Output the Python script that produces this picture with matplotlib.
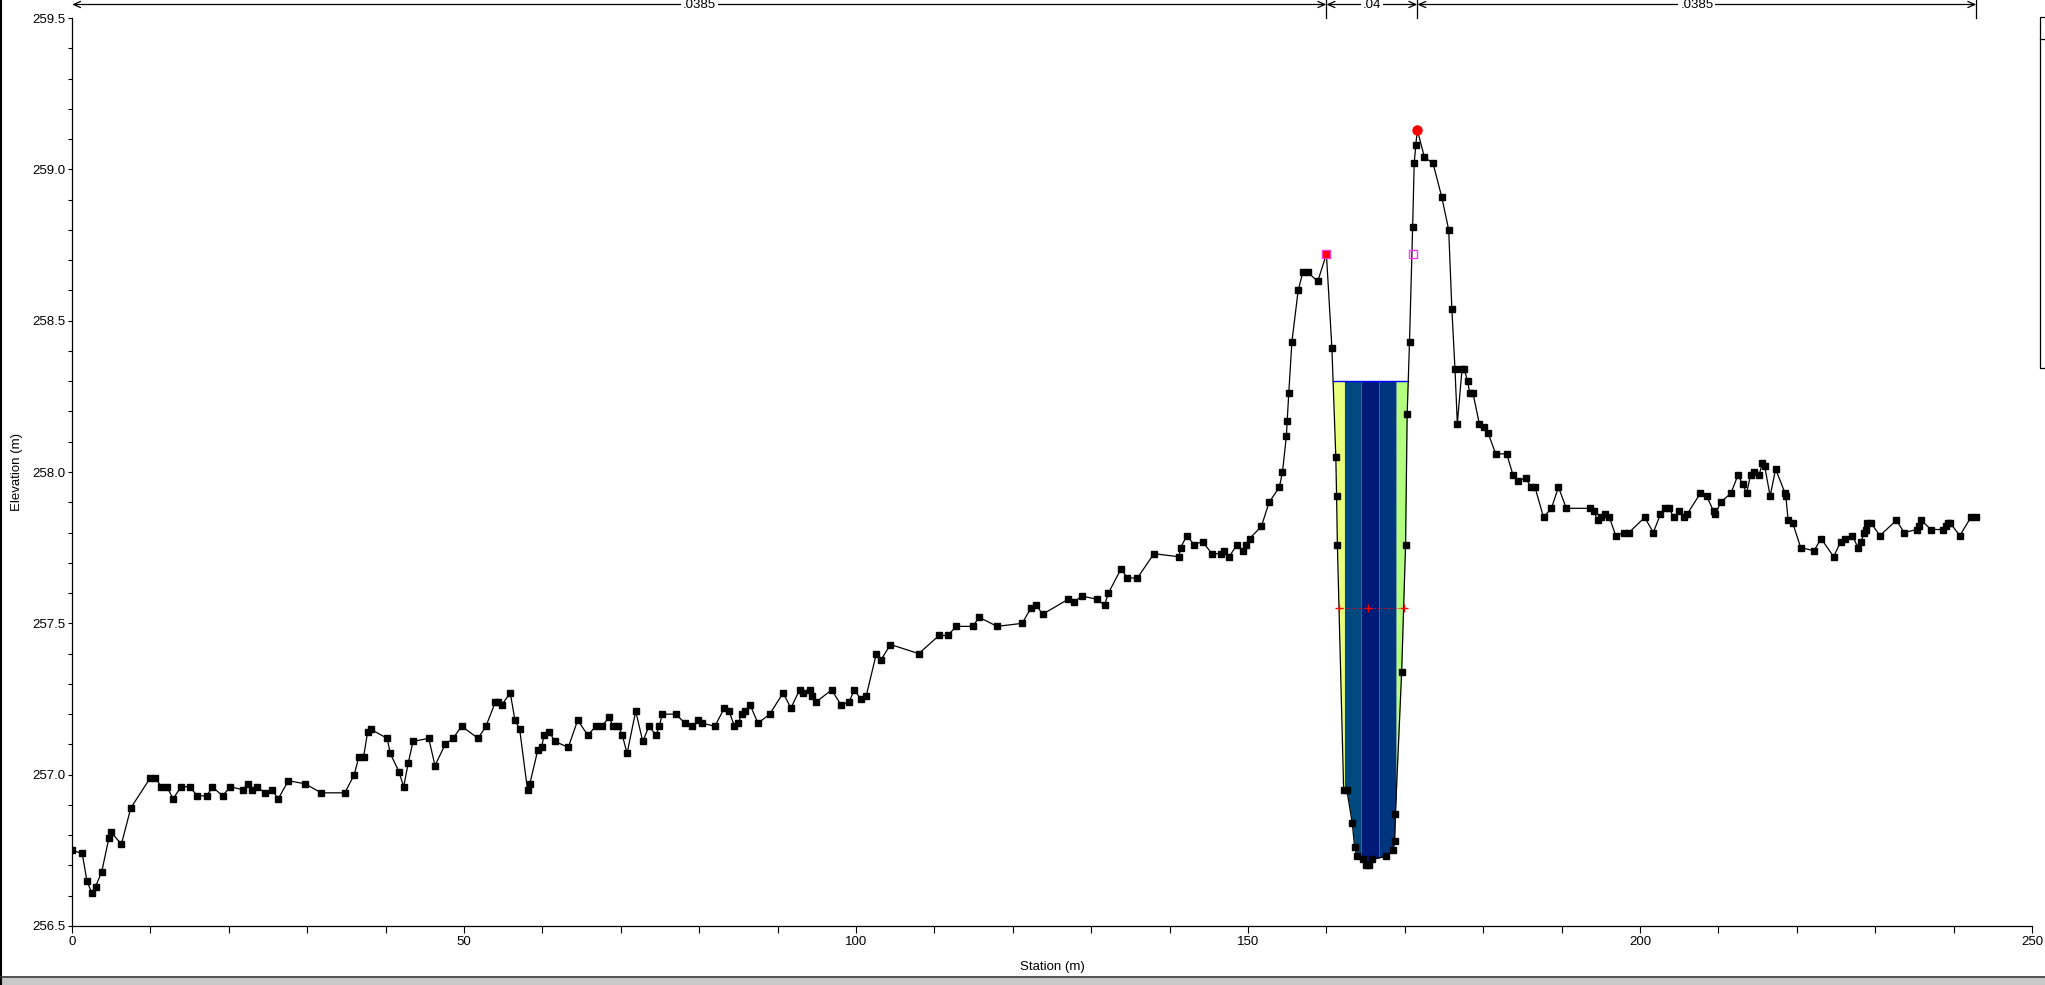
import matplotlib
matplotlib.use("Agg")
import matplotlib.pyplot as plt
import numpy as np
from matplotlib.lines import Line2D
from matplotlib.patches import Rectangle

plt.rcParams["font.family"] = ["Liberation Sans Narrow", "Liberation Sans", "DejaVu Sans"]

# ground survey points (station m, elevation m)
station = [
    0.0, 1.3, 1.9, 2.5, 3.0, 3.8, 4.7, 5.0, 6.3, 7.5, 10.0, 10.6, 11.4, 12.1, 12.9,
    13.9, 15.0, 16.0, 17.2, 17.9, 19.2, 20.2, 21.8, 22.4, 23.0, 23.6, 24.6, 25.5,
    26.3, 27.6, 29.7, 31.8, 34.8, 36.0, 36.6, 37.2, 37.7, 38.1, 40.2, 40.6, 41.7,
    42.3, 42.9, 43.5, 45.5, 46.3, 47.6, 48.6, 49.7, 51.8, 52.8, 54.0, 54.3, 54.8,
    55.9, 56.5, 57.1, 58.1, 58.4, 59.4, 59.9, 60.2, 60.9, 61.6, 63.3, 64.5, 65.8,
    66.8, 67.6, 68.5, 69.0, 69.7, 70.2, 70.8, 71.9, 72.8, 73.6, 74.5, 74.9, 75.3,
    77.0, 78.2, 79.1, 79.9, 80.4, 82.0, 83.2, 83.8, 84.5, 85.0, 85.4, 85.8, 86.5,
    87.5, 89.0, 90.7, 91.7, 92.8, 93.2, 94.1, 94.4, 94.9, 96.9, 98.1, 99.1, 99.8,
    100.6, 101.3, 102.6, 103.2, 104.4, 108.0, 110.6, 111.7, 112.8, 114.9, 115.7,
    118.0, 121.2, 122.3, 123.0, 123.8, 127.1, 127.8, 128.8, 130.7, 131.7, 132.2,
    133.8, 134.6, 135.9, 138.0, 141.2, 141.4, 142.2, 143.1, 144.2, 145.4, 146.5,
    147.0, 147.6, 148.6, 149.3, 149.7, 150.2, 151.7, 152.7, 154.0, 154.4, 154.9,
    155.0, 155.2, 155.6, 156.4, 157.0, 157.6, 158.9, 160.0, 160.7, 161.2, 161.3,
    161.4, 162.2, 162.6, 163.3, 163.6, 163.9, 164.7, 165.1, 165.4, 165.8, 167.6,
    168.5, 168.7, 168.8, 169.6, 170.1, 170.3, 170.6, 171.0, 171.2, 171.4, 171.6,
    172.5, 173.6, 174.7, 175.6, 176.0, 176.4, 176.7, 177.3, 177.6, 178.0, 178.3,
    178.7, 179.5, 180.1, 180.6, 181.6, 183.0, 183.8, 184.4, 185.4, 186.1, 186.6,
    187.7, 188.7, 189.6, 190.6, 193.6, 194.1, 194.6, 195.0, 195.5, 196.1, 196.9,
    198.0, 198.6, 200.6, 201.7, 202.6, 203.2, 203.7, 204.3, 205.0, 205.6, 206.0,
    207.7, 208.5, 209.4, 209.6, 210.3, 211.6, 212.5, 213.1, 213.6, 214.1, 214.5,
    215.2, 215.6, 215.9, 216.6, 217.3, 218.5, 218.6, 218.9, 219.5, 220.5, 222.2,
    223.1, 224.7, 225.6, 226.1, 227.1, 227.8, 228.2, 228.6, 228.8, 229.0, 229.5,
    230.6, 232.7, 233.7, 235.3, 235.6, 235.9, 237.1, 238.7, 239.0, 239.3, 239.6,
    240.8, 242.2, 242.9,
]
elevation = [
    256.75, 256.74, 256.65, 256.61, 256.63, 256.68, 256.79, 256.81, 256.77, 256.89,
    256.99, 256.99, 256.96, 256.96, 256.92, 256.96, 256.96, 256.93, 256.93, 256.96,
    256.93, 256.96, 256.95, 256.97, 256.95, 256.96, 256.94, 256.95, 256.92, 256.98,
    256.97, 256.94, 256.94, 257.00, 257.06, 257.06, 257.14, 257.15, 257.12, 257.07,
    257.01, 256.96, 257.04, 257.11, 257.12, 257.03, 257.10, 257.12, 257.16, 257.12,
    257.16, 257.24, 257.24, 257.23, 257.27, 257.18, 257.15, 256.95, 256.97, 257.08,
    257.09, 257.13, 257.14, 257.11, 257.09, 257.18, 257.13, 257.16, 257.16, 257.19,
    257.16, 257.16, 257.13, 257.07, 257.21, 257.11, 257.16, 257.13, 257.16, 257.20,
    257.20, 257.17, 257.16, 257.18, 257.17, 257.16, 257.22, 257.21, 257.16, 257.17,
    257.20, 257.21, 257.23, 257.17, 257.20, 257.27, 257.22, 257.28, 257.27, 257.28,
    257.26, 257.24, 257.28, 257.23, 257.24, 257.28, 257.25, 257.26, 257.40, 257.38,
    257.43, 257.40, 257.46, 257.46, 257.49, 257.49, 257.52, 257.49, 257.50, 257.55,
    257.56, 257.53, 257.58, 257.57, 257.59, 257.58, 257.56, 257.60, 257.68, 257.65,
    257.65, 257.73, 257.72, 257.75, 257.79, 257.76, 257.77, 257.73, 257.73, 257.74,
    257.72, 257.76, 257.74, 257.76, 257.78, 257.82, 257.90, 257.95, 258.00, 258.12,
    258.17, 258.26, 258.43, 258.60, 258.66, 258.66, 258.63, 258.72, 258.41, 258.05,
    257.92, 257.76, 256.95, 256.95, 256.84, 256.76, 256.73, 256.72, 256.70, 256.70,
    256.72, 256.73, 256.75, 256.78, 256.87, 257.34, 257.76, 258.19, 258.43, 258.81,
    259.02, 259.08, 259.13, 259.04, 259.02, 258.91, 258.80, 258.54, 258.34, 258.16,
    258.34, 258.34, 258.30, 258.26, 258.26, 258.16, 258.15, 258.13, 258.06, 258.06,
    257.99, 257.97, 257.98, 257.95, 257.95, 257.85, 257.88, 257.95, 257.88, 257.88,
    257.87, 257.84, 257.85, 257.86, 257.85, 257.79, 257.80, 257.80, 257.85, 257.80,
    257.86, 257.88, 257.88, 257.85, 257.87, 257.85, 257.86, 257.93, 257.92, 257.87,
    257.86, 257.90, 257.93, 257.99, 257.96, 257.93, 257.99, 258.00, 257.99, 258.03,
    258.02, 257.92, 258.01, 257.93, 257.92, 257.84, 257.83, 257.75, 257.74, 257.78,
    257.72, 257.77, 257.78, 257.79, 257.75, 257.77, 257.80, 257.81, 257.83, 257.83,
    257.79, 257.84, 257.80, 257.81, 257.82, 257.84, 257.81, 257.81, 257.82, 257.83,
    257.83, 257.79, 257.85, 257.85,
]

# water surface and velocity distribution strips
ws_elev = 258.30
strip_edges = [160.0, 162.3, 164.4, 166.7, 168.9, 172.0]
strip_colors = ["#eaff7a", "#004a80", "#001a7a", "#00367f", "#b3ff80"]

# bank stations / levee
left_bank = (160.0, 258.72)
right_bank = (171.6, 259.13)
levee = (171.0, 258.72)

# red crosses
cross_sta = [161.6, 165.3, 169.9]
cross_elev = [257.55, 257.55, 257.55]

# Manning's n regions
n_bounds = [0.0, 160.0, 171.6, 242.9]
n_values = [".0385", ".04", ".0385"]

sta = np.array(station)
elv = np.array(elevation)

fig = plt.figure(figsize=(20.45, 9.85), dpi=100)
ax = fig.add_axes([72 / 2045, 59 / 985, 1960 / 2045, 908 / 985])

# water strips clipped to the section
for a, b, c in zip(strip_edges[:-1], strip_edges[1:], strip_colors):
    xs = np.linspace(a, b, 400)
    gs = np.interp(xs, sta, elv)
    ax.fill_between(xs, gs, ws_elev, where=gs < ws_elev, interpolate=True,
                    color=c, lw=0, zorder=1)

# water surface line
xs = np.linspace(strip_edges[0], strip_edges[-1], 2000)
gs = np.interp(xs, sta, elv)
wet = xs[gs < ws_elev]
ax.plot([wet.min(), wet.max()], [ws_elev, ws_elev], color="#0000ff", lw=1, zorder=2)

# ground
ax.plot(sta, elv, color="black", lw=0.9, marker="s", ms=4.2, mfc="black",
        mec="black", zorder=3)

ax.plot(cross_sta, cross_elev, color="red", lw=0.8, ls=":", marker="+", ms=6,
        mew=1, zorder=4)
ax.plot(*left_bank, marker="s", ms=6, color="red", mec="#ff33cc", zorder=5)
ax.plot(*right_bank, marker="o", ms=6.5, color="red", zorder=5)
ax.plot(*levee, marker="s", ms=6, mfc="none", mec="#ff33ff", mew=1, zorder=5)

ax.set_xlim(0, 250)
ax.set_ylim(256.5, 259.5)
ax.set_xticks(np.arange(0, 251, 50))
ax.set_xticks(np.arange(0, 251, 10), minor=True)
ax.set_yticks(np.arange(256.5, 259.51, 0.5))
ax.set_yticks(np.arange(256.5, 259.51, 0.1), minor=True)
ax.yaxis.set_major_formatter(plt.FuncFormatter(lambda v, p: f"{v:.1f}"))
ax.tick_params(axis="x", which="both", direction="out", length=5, width=0.8,
               labelsize=9.5, pad=2)
ax.tick_params(axis="y", which="both", direction="out", length=3, width=0.8,
               labelsize=9.5, pad=2)
for s in ("top", "right"):
    ax.spines[s].set_visible(False)
for s in ("left", "bottom"):
    ax.spines[s].set_linewidth(0.9)

ax.set_xlabel("Station (m)", fontsize=9.5)
ax.set_ylabel("Elevation (m)", fontsize=9.5)
ax.xaxis.set_label_coords(0.5, -0.038)
ax.yaxis.set_label_coords(-0.025, 0.5)

# n-value dimension arrows above the plot
y_arrow = 259.5 + 13.5 / 302.7
y_tick_top = 259.5 + 18 / 302.7
for x in n_bounds[1:]:
    ax.plot([x, x], [259.5, y_tick_top], color="black", lw=0.9, clip_on=False)
for a, b, lab in zip(n_bounds[:-1], n_bounds[1:], n_values):
    ax.annotate("", xy=(b, y_arrow), xytext=(a, y_arrow),
                arrowprops=dict(arrowstyle="<->,head_length=0.5,head_width=0.22",
                                lw=0.9, color="black", shrinkA=0, shrinkB=0),
                annotation_clip=False)
    ax.text((a + b) / 2, y_arrow, lab, ha="center", va="center", fontsize=9.5,
            bbox=dict(boxstyle="square,pad=0.15", fc="white", ec="none"),
            clip_on=False)

# clipped legend box at the right edge
fig.patches.append(Rectangle((2040 / 2045, 1 - 368 / 985), 0.01, (368 - 17) / 985,
                             transform=fig.transFigure, fill=False, ec="black",
                             lw=0.9))
fig.lines.append(Line2D([2040 / 2045, 1], [1 - 39 / 985, 1 - 39 / 985],
                        transform=fig.transFigure, color="black", lw=0.9))

# window frame: dark left edge, bottom edge with grey band
fig.lines.append(Line2D([0.0005, 0.0005], [0, 1], transform=fig.transFigure,
                        color="black", lw=1.5))
fig.patches.append(Rectangle((0, 0), 1, 7 / 985, transform=fig.transFigure,
                             fc="#c8c8c8", ec="none"))
fig.lines.append(Line2D([0, 1], [8 / 985, 8 / 985], transform=fig.transFigure,
                        color="#333333", lw=1.2))

fig.savefig("out.png", dpi=100, facecolor="white")
